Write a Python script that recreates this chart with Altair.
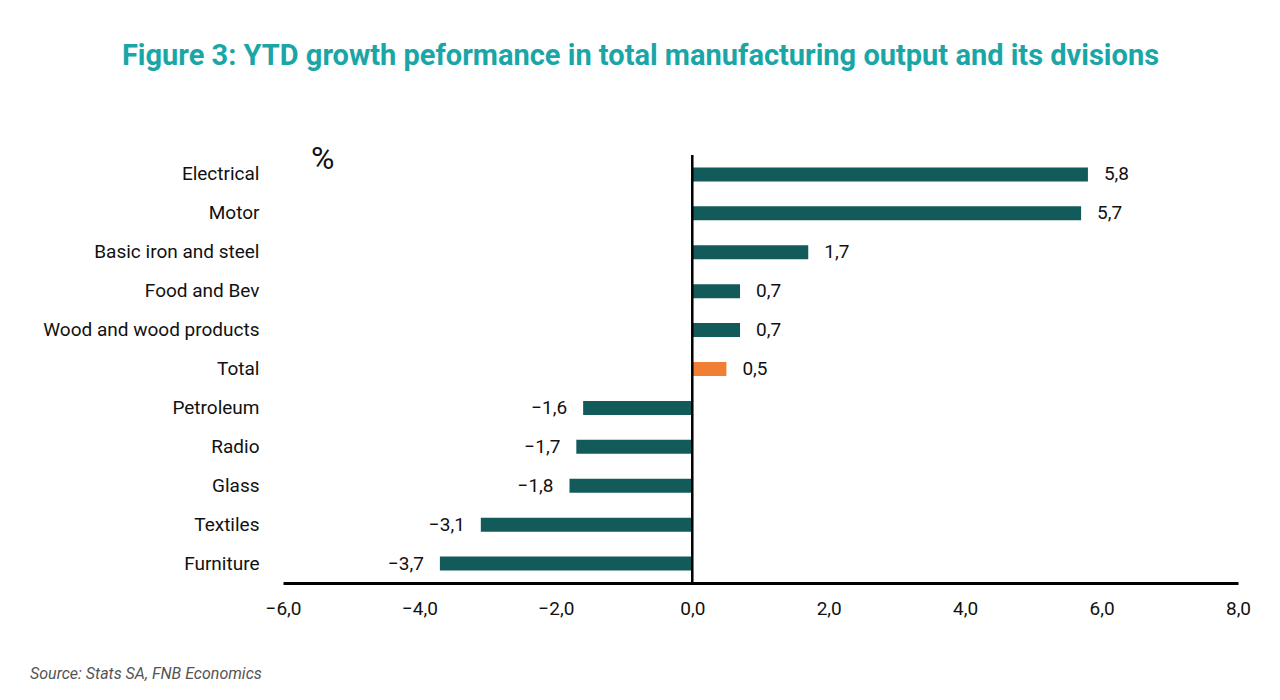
import altair as alt
import pandas as pd

categories = ["Electrical", "Motor", "Basic iron and steel", "Food and Bev",
              "Wood and wood products", "Total", "Petroleum", "Radio", "Glass",
              "Textiles", "Furniture"]
values = [5.8, 5.7, 1.7, 0.7, 0.7, 0.5, -1.6, -1.7, -1.8, -3.1, -3.7]
x_ticks = [-6, -4, -2, 0, 2, 4, 6, 8]

df = pd.DataFrame({"category": categories, "value": values})

TEAL = "#135b5b"
ORANGE = "#f07f33"
FONT = "Roboto"

xscale = alt.Scale(domain=[-6, 8], nice=False, zero=False)
yscale = alt.Scale(domain=categories, paddingInner=0.0, paddingOuter=0.0)

base = alt.Chart(df)

bars = base.mark_bar(size=14).encode(
    x=alt.X("value:Q", scale=xscale,
            axis=alt.Axis(values=x_ticks, title=None, grid=False, ticks=False,
                          domain=True, domainColor="black", domainWidth=3,
                          labelFont=FONT, labelFontSize=19, labelColor="#111",
                          labelPadding=16, labelFlush=False,
                          labelExpr="replace(format(datum.value, '.1f'), '.', ',')")),
    y=alt.Y("category:N", scale=yscale, sort=categories,
            axis=alt.Axis(title=None, domain=False, ticks=False, grid=False,
                          labelFont=FONT, labelFontSize=19, labelColor="#111",
                          labelPadding=24, labelAlign="right", labelLimit=400)),
    color=alt.condition(alt.datum.category == "Total", alt.value(ORANGE), alt.value(TEAL)),
)

labels_pos = base.transform_filter(alt.datum.value >= 0).transform_calculate(
    lab="replace(format(datum.value, '.1f'), '.', ',')"
).mark_text(align="left", baseline="middle", dx=16, font=FONT, fontSize=19, color="#111").encode(
    x=alt.X("value:Q", scale=xscale),
    y=alt.Y("category:N", scale=yscale, sort=categories),
    text="lab:N",
)

labels_neg = base.transform_filter(alt.datum.value < 0).transform_calculate(
    lab="replace(format(datum.value, '.1f'), '.', ',')"
).mark_text(align="right", baseline="middle", dx=-16, font=FONT, fontSize=19, color="#111").encode(
    x=alt.X("value:Q", scale=xscale),
    y=alt.Y("category:N", scale=yscale, sort=categories),
    text="lab:N",
)

zero_rule = alt.Chart(pd.DataFrame({"z": [0]})).mark_rule(color="black", strokeWidth=2.5).encode(
    x=alt.X("z:Q", scale=xscale),
)

pct = alt.Chart(pd.DataFrame({"t": ["%"]})).mark_text(
    align="left", baseline="middle", font=FONT, fontSize=32, color="#111"
).encode(x=alt.value(28), y=alt.value(4), text="t:N")

source = alt.Chart(pd.DataFrame({"t": ["Source: Stats SA, FNB Economics"]})).mark_text(
    align="left", baseline="middle", font=FONT, fontSize=16, fontStyle="italic", color="#555"
).encode(x=alt.value(-253), y=alt.value(519), text="t:N")

chart = alt.layer(bars, zero_rule, labels_pos, labels_neg, pct, source).properties(
    width=955,
    height=428,
    autosize=alt.AutoSizeParams(type="none"),
    padding={"left": 275, "top": 147, "right": 30, "bottom": 100},
    title=alt.TitleParams(
        "Figure 3: YTD growth peformance in total manufacturing output and its dvisions",
        font=FONT, fontSize=29, fontWeight="bold", color="#1aa6a6",
        anchor="middle", dx=-120, offset=72,
    ),
).configure_view(stroke=None)

chart.save("out.html", embed_options={"renderer": "svg", "actions": False})
